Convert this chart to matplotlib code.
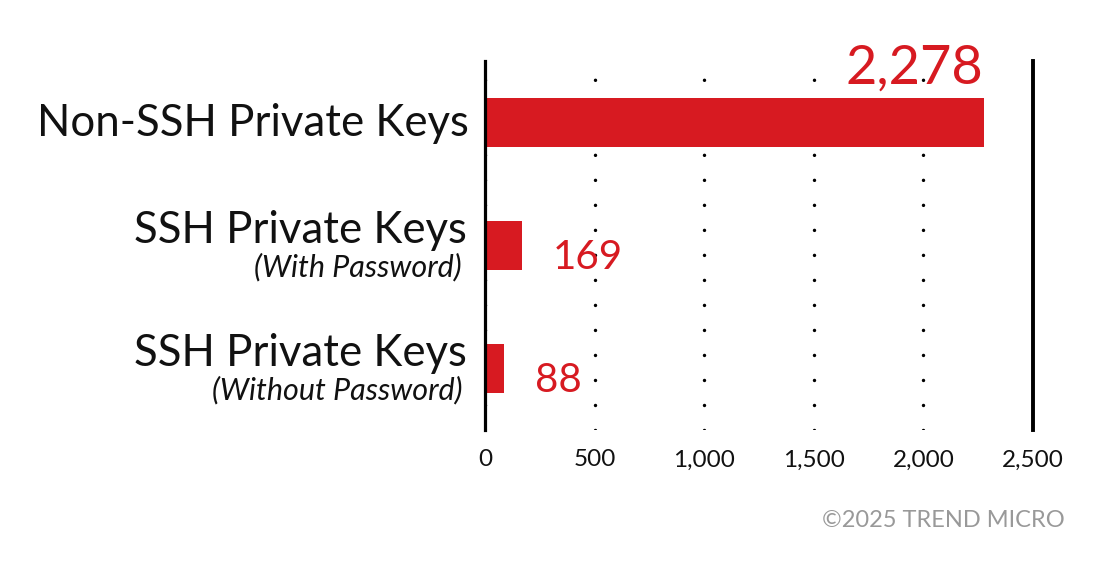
import matplotlib
matplotlib.use("Agg")
import matplotlib.pyplot as plt

plt.rcParams['font.family'] = ['Lato', 'DejaVu Sans']
plt.rcParams['lines.scale_dashes'] = False

categories = ["Non-SSH Private Keys", "SSH Private Keys", "SSH Private Keys"]
subtitles = ["", "(With Password)", "(Without Password)"]
values = [2278, 169, 88]
value_labels = ["2,278", "169", "88"]
xticks = [0, 500, 1000, 1500, 2000, 2500]
xtick_labels = ["0", "500", "1,000", "1,500", "2,000", "2,500"]

red = "#d71a21"

fig = plt.figure(figsize=(11.06, 5.70), dpi=100)
ax = fig.add_axes([485 / 1106, 1 - 430 / 570, 548 / 1106, 369 / 570])

y = list(range(len(values)))
ax.barh(y, values, height=0.4, color=red, zorder=1)

ax.set_xlim(0, 2500)
ax.set_ylim(2.5, -0.5)

ax.set_xticks(xticks)
ax.set_xticklabels(xtick_labels, fontsize=17.5, color="#111111")
ax.tick_params(axis='x', length=0, pad=14)
ax.set_yticks([])

for s in ['top', 'bottom']:
    ax.spines[s].set_visible(False)
ax.spines['left'].set_linewidth(2.3)
ax.spines['right'].set_linewidth(2.8)

ax.set_axisbelow(True)
ax.xaxis.grid(True, color="black", linewidth=2.5,
              linestyle=(0, (0.01, 18)), dash_capstyle='round')

# category labels
for i, (cat, sub) in enumerate(zip(categories, subtitles)):
    if sub:
        ax.annotate(cat, xy=(0, i), xycoords=('axes fraction', 'data'),
                    xytext=(-13, 2), textcoords='offset points',
                    ha='right', va='baseline', fontsize=31.5, color="#111111")
        ax.annotate(sub, xy=(0, i), xycoords=('axes fraction', 'data'),
                    xytext=(-16.5, -22.5), textcoords='offset points',
                    ha='right', va='baseline', fontsize=22, style='italic',
                    color="#111111")
    else:
        ax.annotate(cat, xy=(0, i), xycoords=('axes fraction', 'data'),
                    xytext=(-11.5, -10), textcoords='offset points',
                    ha='right', va='baseline', fontsize=31.5, color="#111111")

# value labels
for i, (v, lab) in enumerate(zip(values, value_labels)):
    if i == 0:
        ax.annotate(lab, xy=(v, i), xytext=(-1, 28), textcoords='offset points',
                    ha='right', va='baseline', fontsize=39, color=red)
    else:
        ax.annotate(lab, xy=(v, i), xytext=(22, -17), textcoords='offset points',
                    ha='left', va='baseline', fontsize=29, color=red)

fig.text(1065 / 1106, 1 - 527 / 570, "\u00a92025 TREND MICRO", ha='right',
         va='baseline', fontsize=17, color="#999999")

fig.savefig("out.png", dpi=100)
